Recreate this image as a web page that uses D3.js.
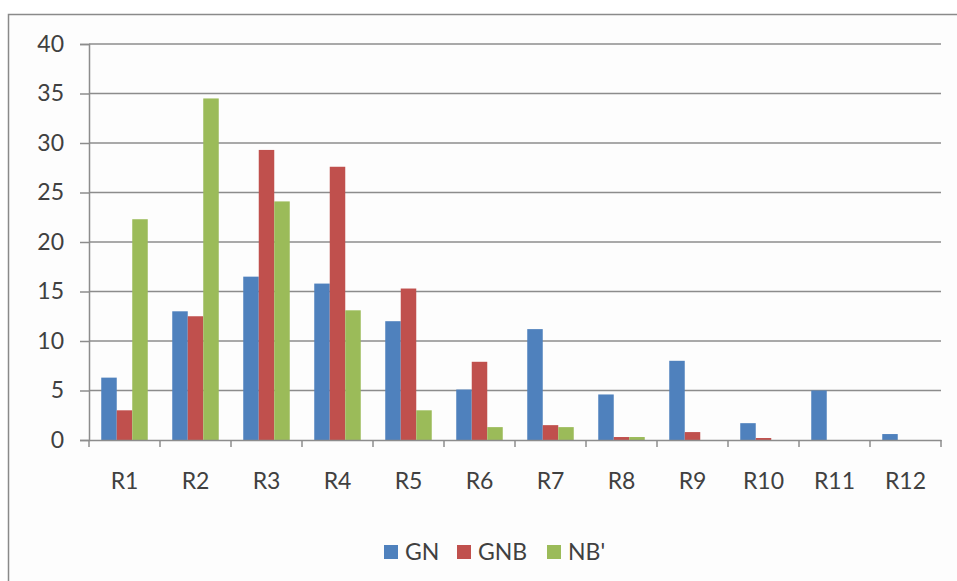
<!DOCTYPE html>
<html>
<head>
<meta charset="utf-8">
<script src="https://cdn.jsdelivr.net/npm/d3@7"></script>
<style>
  html, body { margin: 0; padding: 0; background: #ffffff; }
  svg { display: block; }
  text { font-family: Lato, "Open Sans", sans-serif; fill: #404040; }
</style>
</head>
<body>
<script>
// Categories and series
const categories = ["R1", "R2", "R3", "R4", "R5", "R6", "R7", "R8", "R9", "R10", "R11", "R12"];
const seriesNames = ["GN", "GNB", "NB'"];
const gnValues  = [6.3, 13.0, 16.5, 15.8, 12.0, 5.1, 11.2, 4.6, 8.0, 1.7, 5.0, 0.6];
const gnbValues = [3.0, 12.5, 29.3, 27.6, 15.3, 7.9, 1.5, 0.3, 0.8, 0.2, 0, 0];
const nbValues  = [22.3, 34.5, 24.1, 13.1, 3.0, 1.3, 1.3, 0.3, 0, 0, 0, 0];
const yTicks = [0, 5, 10, 15, 20, 25, 30, 35, 40];
const seriesColors = ["#4f81bd", "#c0504d", "#9bbb59"];

const seriesValues = [gnValues, gnbValues, nbValues];
const rows = categories.map((c, i) => ({
  cat: c,
  vals: seriesNames.map((s, j) => ({ key: s, value: seriesValues[j][i] }))
}));

const W = 957, H = 581;
const svg = d3.select("body").append("svg").attr("width", W).attr("height", H);

// Chart frame
svg.append("rect").attr("x", 8.5).attr("y", 14.5).attr("width", W).attr("height", H)
  .attr("fill", "#fdfdfd").attr("stroke", "#8a8a8a").attr("stroke-width", 1.5);

const plot = { left: 89, right: 941, top: 44, bottom: 440 };

const x = d3.scaleBand().domain(categories).range([plot.left, plot.right]).paddingInner(0).paddingOuter(0);
const xInner = d3.scaleBand().domain(seriesNames).range([0, x.bandwidth()]).paddingInner(0).paddingOuter(0.79);
const y = d3.scaleLinear().domain([0, 40]).range([plot.bottom, plot.top]);

// Y axis with ticks and labels
const yAxis = d3.axisLeft(y).tickValues(yTicks).tickSize(9).tickPadding(16).tickFormat(d3.format("d"));
const gy = svg.append("g").attr("transform", `translate(${plot.left},0)`).call(yAxis);
gy.select(".domain").attr("stroke", "#8c8c8c").attr("stroke-width", 1.5);
gy.selectAll(".tick line").attr("stroke", "#8c8c8c").attr("stroke-width", 1.5);
gy.selectAll(".tick text").style("font-size", "23px").attr("fill", "#404040");

// Horizontal gridlines
svg.append("g").selectAll("line").data(yTicks.filter(t => t > 0)).join("line")
  .attr("x1", plot.left).attr("x2", plot.right)
  .attr("y1", d => y(d)).attr("y2", d => y(d))
  .attr("stroke", "#8c8c8c").attr("stroke-width", 1.5);

// Bars
const groups = svg.append("g").selectAll("g").data(rows).join("g")
  .attr("transform", d => `translate(${x(d.cat)},0)`);
groups.selectAll("rect").data(d => d.vals).join("rect")
  .attr("x", d => xInner(d.key))
  .attr("width", xInner.bandwidth())
  .attr("y", d => y(d.value))
  .attr("height", d => y(0) - y(d.value))
  .attr("fill", (d, i) => seriesColors[i]);

// X axis
const xAxis = d3.axisBottom(x).tickSize(0).tickPadding(33);
const gx = svg.append("g").attr("transform", `translate(0,${plot.bottom})`).call(xAxis);
gx.select(".domain").attr("stroke", "#8c8c8c").attr("stroke-width", 1.5);
gx.selectAll(".tick text").style("font-size", "23px").attr("fill", "#404040");

// Category separator ticks
const sepPositions = categories.map(c => x(c)).concat([plot.right]);
svg.append("g").selectAll("line").data(sepPositions).join("line")
  .attr("x1", d => d).attr("x2", d => d)
  .attr("y1", plot.bottom).attr("y2", plot.bottom + 7)
  .attr("stroke", "#8c8c8c").attr("stroke-width", 1.5);

// Legend
const legendX = [384, 457, 547];
const legend = svg.append("g").selectAll("g").data(seriesNames).join("g")
  .attr("transform", (d, i) => `translate(${legendX[i]},545)`);
legend.append("rect").attr("width", 14).attr("height", 14)
  .attr("fill", (d, i) => seriesColors[i]);
legend.append("text").attr("x", 21).attr("y", 15).style("font-size", "23px").text(d => d);
</script>
</body>
</html>
